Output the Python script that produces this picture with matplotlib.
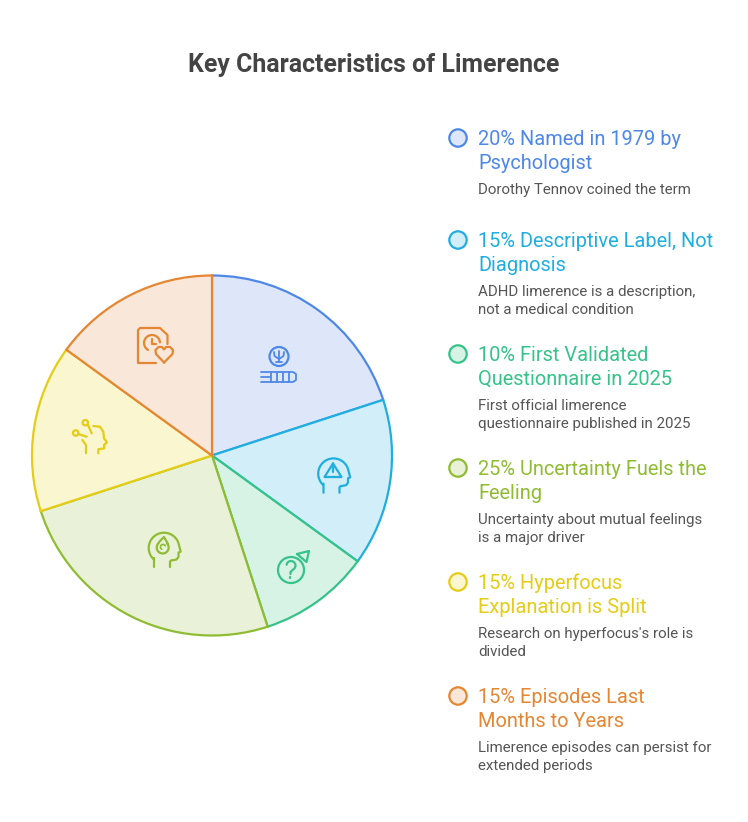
import numpy as np
import matplotlib
matplotlib.use("Agg")
import matplotlib.pyplot as plt
from matplotlib.patches import Circle

W, H = 748, 822

title = "Key Characteristics of Limerence"
shares = [20, 15, 10, 25, 15, 15]
line_colors = ["#4E88E7", "#1FAEE0", "#36C389", "#8FBC32", "#E5CC16", "#E58632"]
fill_colors = ["#DDE7F9", "#D2EEF9", "#D7F3E6", "#E9F2D8", "#FAF6D0", "#F9E7DA"]
headings = [
    ["20% Named in 1979 by", "Psychologist"],
    ["15% Descriptive Label, Not", "Diagnosis"],
    ["10% First Validated", "Questionnaire in 2025"],
    ["25% Uncertainty Fuels the", "Feeling"],
    ["15% Hyperfocus", "Explanation is Split"],
    ["15% Episodes Last", "Months to Years"],
]
details = [
    ["Dorothy Tennov coined the term"],
    ["ADHD limerence is a description,", "not a medical condition"],
    ["First official limerence", "questionnaire published in 2025"],
    ["Uncertainty about mutual feelings", "is a major driver"],
    ["Research on hyperfocus's role is", "divided"],
    ["Limerence episodes can persist for", "extended periods"],
]
heading_y = [145, 247, 361, 475, 589, 703]

plt.rcParams["font.family"] = ["Roboto", "DejaVu Sans"]
fig = plt.figure(figsize=(W / 100, H / 100), dpi=100)
ax = fig.add_axes([0, 0, 1, 1])


def Y(y):
    return H - y


def line(pts, color, lw=1.6, closed=False):
    pts = list(pts)
    if closed:
        pts.append(pts[0])
    xs = [p[0] for p in pts]
    ys = [Y(p[1]) for p in pts]
    ax.plot(xs, ys, color=color, lw=lw, solid_capstyle="round", solid_joinstyle="round", zorder=5)


def ring(cx, cy, r, color, lw=1.6):
    ax.add_patch(Circle((cx, Y(cy)), r, fc="none", ec=color, lw=lw, zorder=5))


def arc(cx, cy, r, a0, a1, n=24):
    t = np.radians(np.linspace(a0, a1, n))
    return list(zip(cx + r * np.cos(t), cy + r * np.sin(t)))


def head(cx, cy, color):
    pts = [(cx - 10, cy + 19), (cx - 10, cy + 10)] + arc(cx, cy, 15.3, 135, 340)
    tail = [(16.7, 3.7), (14.5, 4.5), (14.5, 9), (12.5, 11.5), (7, 12.5), (6, 13.5), (6, 19)]
    line(pts + [(cx + a, cy + b) for a, b in tail], color)


ax.pie(shares, colors=fill_colors, center=(212, Y(455.5)), radius=180, startangle=90, counterclock=False,
       wedgeprops=dict(lw=1.6), frame=False)
for w, c in zip(ax.patches, line_colors):
    w.set_edgecolor(c)
ax.set_xlim(0, W)
ax.set_ylim(0, H)
ax.set_aspect("equal")
ax.axis("off")

# blue icon
c = line_colors[0]
ring(279, 356.5, 9.5, c)
line([(274, 352), (274.5, 356), (279, 359), (283.5, 356), (284, 352)], c, lw=1.3)
line([(279, 351), (279, 362)], c, lw=1.3)
line([(276, 362), (282, 362)], c, lw=1.3)
line([(261, 372), (293, 372), (296, 374), (296, 380), (293, 382), (261, 382)], c, lw=1.3)
line([(261, 377), (270, 377)], c, lw=1.3)
for x in [271, 277, 283, 289]:
    line([(x, 372), (x, 382)], c, lw=1.3)

# cyan icon
c = line_colors[1]
head(333.5, 473.7, c)
line([(333, 463.5), (341.5, 477), (324.5, 477)], c, closed=True)
line([(333, 467.5), (333, 472)], c)
line([(333, 474.8), (333, 475.2)], c)

# green icon
c = line_colors[2]
ring(291, 570, 13, c)
line(arc(291, 565.5, 4.5, 190, 420, 14) + [(290.5, 572), (290.5, 574)], c)
line([(290.5, 577.5), (290.5, 578)], c)
line([(297, 554), (309, 551), (306.5, 562)], c, closed=True)

# olive icon
c = line_colors[3]
head(164, 548, c)
line(arc(162.7, 547.5, 6, -40, 215, 18) + [(160, 541), (164, 537), (168, 544)], c)
line(arc(163, 547, 2.6, 120, 330, 10), c, lw=1.2)

# yellow icon
c = line_colors[4]
ring(85.3, 422.7, 2.7, c)
ring(75.7, 433, 2.7, c)
line([(88, 425), (91.7, 433.3)], c)
line([(78.3, 434), (86.7, 436.7)], c)
line([(93.3, 426), (100, 426.7), (103.3, 431.7), (104, 438.3), (107, 442.3), (104, 445), (104.3, 448.3),
      (98.3, 449.3), (98.3, 453.3)], c)
line([(82.3, 440), (86, 445), (86, 453.3)], c)

# orange icon
c = line_colors[5]
line([(156, 363), (138, 363), (138, 330), (140, 328), (160, 328), (167.5, 335), (167.5, 344)], c)
line(arc(152, 343, 8, 120, 355, 20), c)
line([(152, 339), (152, 344), (156, 344)], c)
line([(164, 362.5), (156, 354), (155.5, 350), (158.5, 347), (162, 347), (164, 349.5), (166, 347),
      (170, 347), (173, 350), (172.5, 354)], c, closed=True)

ax.text(374, Y(72), title, ha="center", va="baseline", fontsize=17.9, fontweight="bold", color="#444444")

for i in range(6):
    y0 = heading_y[i]
    c = line_colors[i]
    ax.add_patch(Circle((458, Y(y0 - 7)), 8.7, fc=fill_colors[i], ec=c, lw=1.6, zorder=5))
    for k, s in enumerate(headings[i]):
        ax.text(478, Y(y0 + 24 * k), s, ha="left", va="baseline", fontsize=14.4, color=c)
    for k, s in enumerate(details[i]):
        ax.text(478, Y(y0 + 49 + 18 * k), s, ha="left", va="baseline", fontsize=10.8, color="#555555")

fig.savefig("out.png", dpi=100, facecolor="white")
